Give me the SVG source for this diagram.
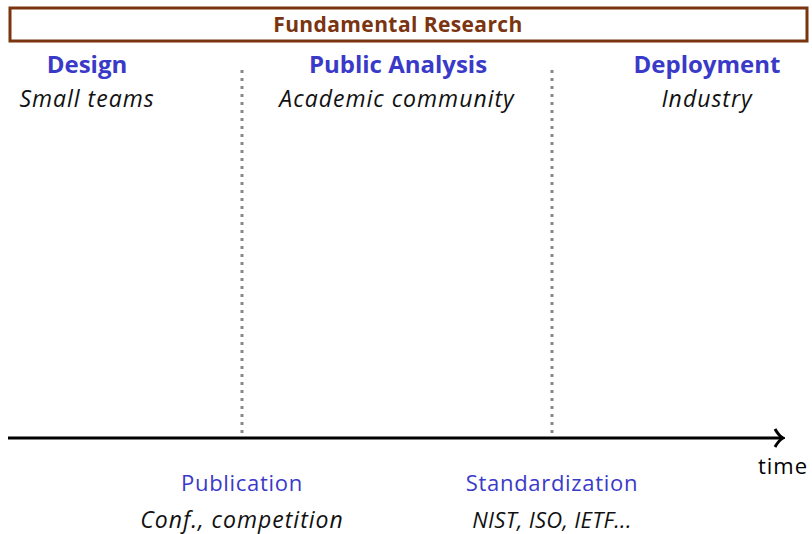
<svg xmlns="http://www.w3.org/2000/svg" width="812" height="534" viewBox="0 0 812 534">
<style>
text{font-family:"Open Sans","Noto Sans","DejaVu Sans",sans-serif;text-anchor:middle}
.title{font-size:21px;font-weight:bold;fill:#7A3410;letter-spacing:0.4px}
.phase{font-size:24px;font-weight:bold;fill:#3A3AC8}
.who{font-size:23px;font-style:italic;fill:#111;letter-spacing:1px}
.event{font-size:22px;fill:#3A3AC8;letter-spacing:0.7px}
.sep{stroke:#888;stroke-width:3;stroke-dasharray:3 5;fill:none}
.axis{stroke:#000;stroke-width:3;fill:none}
</style>
<defs>
<marker id="arr" viewBox="0 0 12 20" refX="10" refY="10" markerWidth="12" markerHeight="20" markerUnits="userSpaceOnUse" orient="auto">
<path d="M2,1 Q6,8 10,10 Q6,12 2,19" fill="none" stroke="#000" stroke-width="3"/>
</marker>
</defs>
<g id="fundamental">
<rect x="10" y="8" width="797" height="33" fill="#fff" stroke="#7A3410" stroke-width="3"/>
<text class="title" x="398" y="32">Fundamental Research</text>
</g>
<g id="design">
<text class="phase" x="87" y="73">Design</text>
<text class="who" x="87" y="107">Small teams</text>
</g>
<g id="analysis">
<text class="phase" x="398" y="73">Public Analysis</text>
<text class="who" x="397" y="107">Academic community</text>
</g>
<g id="deployment">
<text class="phase" x="707" y="73">Deployment</text>
<text class="who" x="707" y="107">Industry</text>
</g>
<g id="connectors">
<line class="sep" x1="242" y1="70" x2="242" y2="438"/>
<line class="sep" x1="552" y1="70" x2="552" y2="438"/>
<line class="axis" x1="8" y1="438" x2="783" y2="438" marker-end="url(#arr)"/>
</g>
<g id="time">
<text x="783" y="474" style="font-size:22px;fill:#000;letter-spacing:1px">time</text>
</g>
<g id="publication">
<text class="event" x="242" y="491">Publication</text>
<text class="who" x="242" y="528">Conf., competition</text>
</g>
<g id="standardization">
<text class="event" x="552" y="491">Standardization</text>
<text class="who" x="552" y="528" style="font-size:22px;letter-spacing:0.3px">NIST, ISO, IETF...</text>
</g>
</svg>
